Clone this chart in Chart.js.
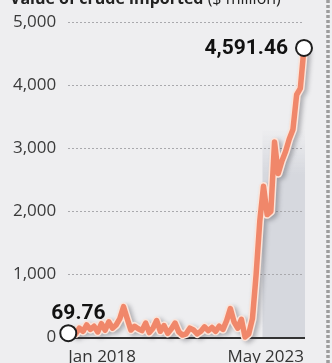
<!DOCTYPE html>
<html>
<head>
<meta charset="utf-8">
<title>Crude imports</title>
<script src="https://cdn.jsdelivr.net/npm/chart.js@4"></script>
<style>
  html, body { margin: 0; padding: 0; background: #eeeef0; overflow: hidden; }
  #wrap { position: relative; width: 332px; height: 363px; overflow: hidden; }
  canvas { display: block; }
</style>
</head>
<body>
<div id="wrap"><canvas id="crudeChart" width="332" height="376"></canvas></div>
<script>
// Monthly value of crude imported, $ million, Jan 2018 - May 2023
var monthNames = ['Jan', 'Feb', 'Mar', 'Apr', 'May', 'Jun', 'Jul', 'Aug', 'Sep', 'Oct', 'Nov', 'Dec'];
var years = [2018, 2019, 2020, 2021, 2022, 2023];
var months = [];
years.forEach(function(y) {
    monthNames.forEach(function(m) {
        if (months.length < 65) months.push(m + ' ' + y);
    });
});

var importValues = [
    69.76, 120, 60, 150, 100, 200, 130, 180, 90, 220, 120, 250,
    150, 200, 300, 490, 300, 120, 180, 140, 110, 230, 80, 150,
    270, 100, 190, 70, 140, 230, 90, 40, 60, 150, 120, 60,
    100, 170, 110, 160, 100, 180, 130, 270, 460, 250, 150, 290,
    10, 60, 300, 1000, 1850, 2400, 1950, 2000, 3100, 2600, 2800, 2950,
    3150, 3300, 3850, 3950, 4591.46
];

var xTickLabels = ['Jan 2018', 'May 2023'];
var yTicks = [0, 1000, 2000, 3000, 4000, 5000];
var shadeStart = 'Jun 2022';

var lineColor = '#f0876a';
var lastIndex = importValues.length - 1;

function fmt(v) {
    return v.toLocaleString('en-US', { minimumFractionDigits: 2, maximumFractionDigits: 2 });
}

// background band, line shadow, value labels, title and the dotted rule
var decorations = {
    id: 'decorations',
    beforeDraw: function(chart) {
        var xs = chart.scales.x, ys = chart.scales.y, ctx = chart.ctx;
        var x0 = xs.getPixelForValue(months.indexOf(shadeStart)) - 1;
        var x1 = chart.chartArea.right + 1;
        var yTop = ys.getPixelForValue(3300);
        var yBot = ys.getPixelForValue(0);
        var g = ctx.createLinearGradient(0, yTop, 0, ys.getPixelForValue(2600));
        g.addColorStop(0, 'rgba(214,216,222,0)');
        g.addColorStop(1, 'rgba(214,216,222,1)');
        ctx.save();
        ctx.fillStyle = g;
        ctx.fillRect(x0, yTop, x1 - x0, yBot - yTop);
        ctx.restore();
    },
    beforeDatasetDraw: function(chart, args) {
        if (args.index !== 0) return;
        var ctx = chart.ctx;
        ctx.save();
        ctx.shadowColor = 'rgba(60,60,70,0.35)';
        ctx.shadowBlur = 4;
        ctx.shadowOffsetX = 3;
        ctx.shadowOffsetY = 2;
    },
    afterDatasetDraw: function(chart, args) {
        if (args.index !== 0) return;
        chart.ctx.restore();
    },
    afterDraw: function(chart) {
        var ctx = chart.ctx;
        var pts = chart.getDatasetMeta(1).data;
        ctx.save();
        ctx.fillStyle = '#111';
        ctx.font = 'bold 21px Roboto';
        ctx.textBaseline = 'alphabetic';
        ctx.textAlign = 'left';
        ctx.fillText(fmt(importValues[0]), pts[0].x - 17, pts[0].y - 14);
        ctx.textAlign = 'right';
        ctx.textBaseline = 'middle';
        ctx.fillText(fmt(importValues[lastIndex]), pts[lastIndex].x - 16, pts[lastIndex].y + 1);

        // title, mostly above the top edge
        ctx.textAlign = 'left';
        ctx.textBaseline = 'alphabetic';
        ctx.fillStyle = '#222';
        ctx.font = 'bold 16px "Open Sans"';
        var bold = 'Value of crude imported ';
        ctx.fillText(bold, 10, 4);
        var w = ctx.measureText(bold).width;
        ctx.font = '16px "Open Sans"';
        ctx.fillText('($ million)', 10 + w, 4);

        // dotted rule on the right
        ctx.strokeStyle = '#9c9c9c';
        ctx.lineWidth = 3.5;
        ctx.setLineDash([3, 2]);
        ctx.beginPath();
        ctx.moveTo(328, 0);
        ctx.lineTo(328, chart.height);
        ctx.stroke();
        ctx.restore();
    }
};

var ctx = document.getElementById('crudeChart').getContext('2d');
new Chart(ctx, {
    type: 'line',
    data: {
        labels: months,
        datasets: [{
            // pale halo under the line
            data: importValues,
            order: 1,
            borderColor: '#fbe4d9',
            borderWidth: 8.5,
            borderJoinStyle: 'round',
            pointRadius: 0,
            tension: 0,
            clip: false
        }, {
            data: importValues,
            order: 0,
            borderColor: lineColor,
            borderWidth: 5.5,
            borderJoinStyle: 'round',
            tension: 0,
            clip: false,
            pointRadius: function(c) {
                return (c.dataIndex === 0 || c.dataIndex === lastIndex) ? 8 : 0;
            },
            pointBackgroundColor: '#ffffff',
            pointBorderColor: '#1e1e1e',
            pointBorderWidth: 2
        }]
    },
    options: {
        responsive: false,
        animation: false,
        devicePixelRatio: 1,
        layout: { padding: { left: 1, right: 28, top: 12, bottom: 0 } },
        plugins: {
            legend: { display: false },
            tooltip: { enabled: false }
        },
        scales: {
            x: {
                grid: { color: 'transparent', drawTicks: false },
                border: { display: true, color: '#333', width: 2 },
                ticks: {
                    autoSkip: false,
                    maxRotation: 0,
                    minRotation: 0,
                    align: 'inner',
                    padding: 9,
                    color: '#333',
                    font: { family: 'Open Sans', size: 17 },
                    callback: function(v, i) {
                        var lab = months[i];
                        return xTickLabels.indexOf(lab) >= 0 ? lab : null;
                    }
                }
            },
            y: {
                min: 0,
                max: 5000,
                afterBuildTicks: function(scale) {
                    scale.ticks = yTicks.map(function(v) { return { value: v }; });
                },
                grid: {
                    drawTicks: false,
                    lineWidth: 1,
                    color: function(c) { return c.tick && c.tick.value === 0 ? 'transparent' : '#a9a9ad'; }
                },
                border: { display: false, dash: [2, 2] },
                ticks: {
                    padding: 12,
                    color: '#3a3a3a',
                    font: { family: 'Open Sans', size: 17 },
                    callback: function(v) { return v.toLocaleString('en-US'); }
                }
            }
        }
    },
    plugins: [decorations]
});
</script>
</body>
</html>
